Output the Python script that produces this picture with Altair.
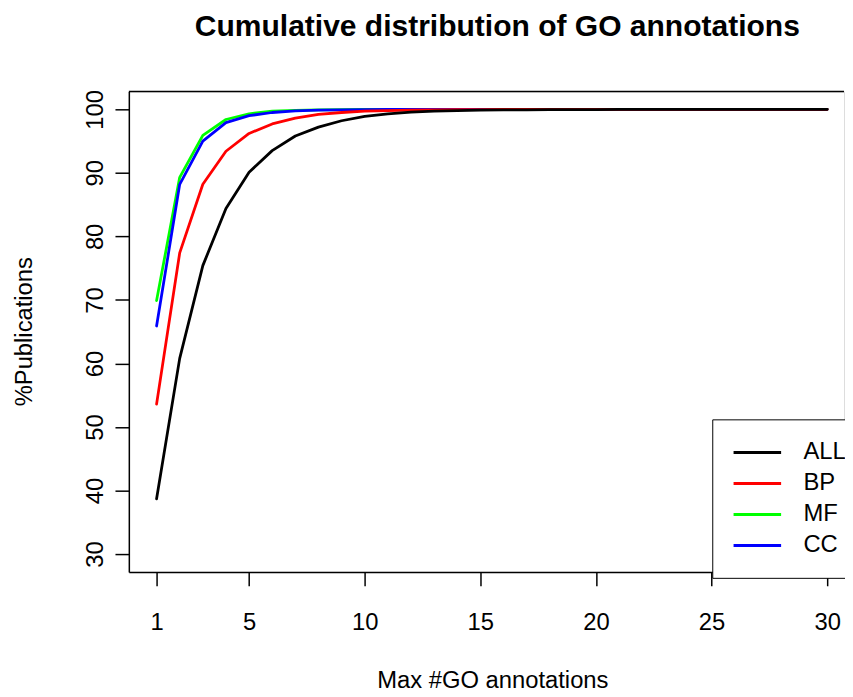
import altair as alt
import pandas as pd

x_vals = list(range(1, 31))
series_names = ["ALL", "BP", "MF", "CC"]
series_colors = ["#000000", "#FF0000", "#00FF00", "#0000FF"]

all_vals = [38.7, 60.8, 75.4, 84.4, 90.1, 93.5, 95.8, 97.2, 98.2, 98.9,
            99.3, 99.55, 99.7, 99.8, 99.87, 99.9, 99.93, 99.95, 99.96, 99.97,
            99.98, 99.98, 99.99, 99.99, 99.99, 100, 100, 100, 100, 100]
bp_vals = [53.6, 77.4, 88.2, 93.4, 96.2, 97.7, 98.6, 99.2, 99.5, 99.7,
           99.8, 99.87, 99.92, 99.95, 99.97, 99.98, 99.99, 100, 100, 100,
           100, 100, 100, 100, 100, 100, 100, 100, 100, 100]
mf_vals = [69.9, 89.3, 95.9, 98.4, 99.3, 99.7, 99.85, 99.92, 99.96, 99.98,
           99.99, 100, 100, 100, 100, 100, 100, 100, 100, 100,
           100, 100, 100, 100, 100, 100, 100, 100, 100, 100]
cc_vals = [65.9, 88.2, 95.0, 97.9, 99.0, 99.5, 99.75, 99.87, 99.93, 99.96,
           99.98, 99.99, 100, 100, 100, 100, 100, 100, 100, 100,
           100, 100, 100, 100, 100, 100, 100, 100, 100, 100]

x_ticks = [1, 5, 10, 15, 20, 25, 30]
y_ticks = [30, 40, 50, 60, 70, 80, 90, 100]

values = {"ALL": all_vals, "BP": bp_vals, "MF": mf_vals, "CC": cc_vals}
rows = []
for name in series_names:
    for xv, yv in zip(x_vals, values[name]):
        rows.append({"x": xv, "y": yv, "series": name})
df = pd.DataFrame(rows)

FONT = "Liberation Sans"
W, H = 722, 485

x_scale = alt.Scale(domain=[-0.1994, 30.728], nice=False, zero=False)
y_scale = alt.Scale(domain=[27.194, 102.806], nice=False, zero=False)
color_scale = alt.Scale(domain=series_names, range=series_colors)

x_enc = alt.X("x:Q", scale=x_scale,
              axis=alt.Axis(values=x_ticks, title="Max #GO annotations", grid=False,
                            tickSize=14, tickColor="black", tickWidth=1.5,
                            domainColor="black", domainWidth=1.5,
                            labelFontSize=24, labelFont=FONT, labelColor="black",
                            labelPadding=25, labelFlush=False,
                            titleFontSize=24, titleFont=FONT, titleColor="black",
                            titleFontWeight="normal", titleX=367, titleY=117,
                            titleBaseline="alphabetic", titleAlign="center"))
y_enc = alt.Y("y:Q", scale=y_scale,
              axis=alt.Axis(values=y_ticks, title="%Publications", grid=False,
                            tickSize=14, tickColor="black", tickWidth=1.5,
                            domainColor="black", domainWidth=1.5,
                            labelFontSize=24, labelFont=FONT, labelColor="black",
                            labelAngle=-90, labelAlign="center", labelBaseline="bottom",
                            labelPadding=8, labelFlush=False,
                            titleFontSize=24, titleFont=FONT, titleColor="black",
                            titleFontWeight="normal", titleAngle=-90,
                            titleX=-105, titleY=242, titleAlign="center",
                            titleBaseline="middle"))

color_enc = alt.Color("series:N", scale=color_scale, sort=series_names,
                      legend=alt.Legend(orient="none", legendX=589, legendY=331,
                                        title=None, symbolType="M-2,0H2",
                                        symbolSize=576, symbolStrokeWidth=3,
                                        symbolOffset=12,
                                        labelFontSize=24, labelFont=FONT,
                                        labelColor="black", labelOffset=33,
                                        rowPadding=5.3, padding=20,
                                        strokeColor="black", fillColor="white"))

layers = []
for name in ["MF", "CC", "BP", "ALL"]:
    layers.append(
        alt.Chart(df).transform_filter(alt.datum.series == name)
        .mark_line(strokeWidth=2.8, strokeCap="round", strokeJoin="round")
        .encode(x=x_enc, y=y_enc, color=color_enc)
    )

frame_df = pd.DataFrame({"edge": ["top"]})
top_line = alt.Chart(frame_df).mark_rule(color="black", strokeWidth=1.5).encode(
    x=alt.value(0), x2=alt.value(W), y=alt.value(0))

chart = alt.layer(*layers, top_line).properties(
    width=W, height=H,
    autosize=alt.AutoSizeParams(type="none"),
    padding={"left": 122, "top": 81, "right": 1, "bottom": 123},
    title=alt.TitleParams(text="Cumulative distribution of GO annotations",
                          fontSize=30.3, fontWeight="bold", font=FONT, color="black",
                          anchor="middle", frame="group", dx=11, offset=24,
                          baseline="alphabetic"),
).configure_view(stroke=None).configure(background="white")

chart.save("out.html", embed_options={"renderer": "svg", "actions": False})
